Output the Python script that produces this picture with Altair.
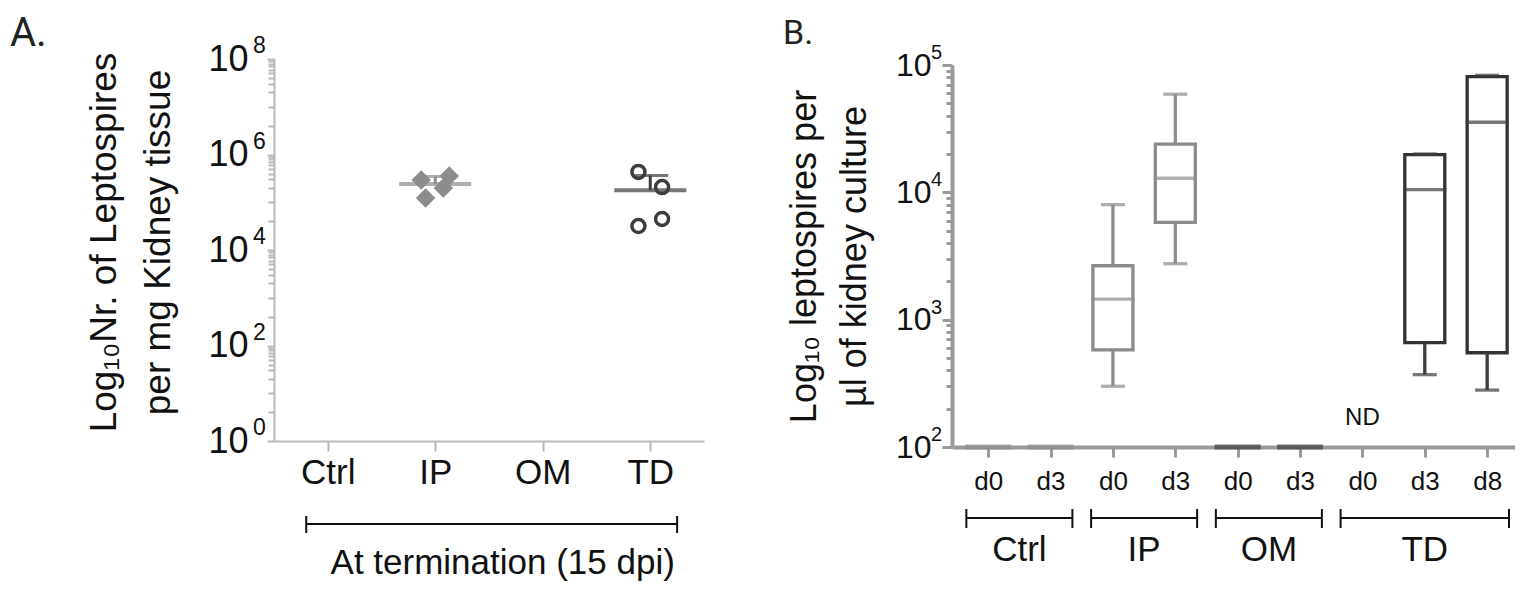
import json
import altair as alt
import pandas as pd

FONT = "Liberation Sans"
LABEL_FONT = "Roboto"
TXT = "#111111"

# ---------------- Panel A data ----------------
a_groups = ["Ctrl", "IP", "OM", "TD"]
a_pt_group = ["IP", "IP", "IP", "IP", "TD", "TD", "TD", "TD"]
a_pt_jitter = [-0.13, 0.13, 0.075, -0.09, -0.11, 0.11, -0.11, 0.11]
a_pt_value = [292000, 355000, 199000, 123000, 431000, 208000, 31800, 44600]
a_major = [1, 100, 10000, 1000000, 100000000]
a_major_exp = ["0", "2", "4", "6", "8"]
a_minor_mult = [4, 10, 20, 30, 40, 50, 60, 70, 80, 90]
a_bracket_label = ["At termination (15 dpi)"]
a_colors = {"IP": "#8c8c8c", "TD": "#3d3d3d"}
a_err_colors = {"IP": "#e2e2e2", "TD": "#3d3d3d"}

# ---------------- Panel B data ----------------
b_days = ["d0", "d3", "d0", "d3", "d0", "d3", "d0", "d3", "d8"]
b_box_pos = [2, 3, 7, 8]
b_box_group = ["IP", "IP", "TD", "TD"]
b_box_min = [300, 2750, 370, 280]
b_box_q1 = [580, 5800, 660, 550]
b_box_med = [1450, 12900, 10500, 35500]
b_box_q3 = [2650, 23900, 19800, 81000]
b_box_max = [8000, 59000, 20000, 83000]
b_flat_pos = [0, 1, 4, 5]
b_flat_group = ["Ctrl", "Ctrl", "OM", "OM"]
b_flat_value = [100, 100, 100, 100]
b_nd_pos = [6]
b_nd_text = ["ND"]
b_bracket_group = ["Ctrl", "IP", "OM", "TD"]
b_bracket_first = [0, 2, 4, 6]
b_bracket_last = [1, 3, 5, 8]
b_major = [100, 1000, 10000, 100000]
b_major_exp = ["2", "3", "4", "5"]
b_minor_mult = [2, 3, 4, 5, 6, 7, 8, 9]
b_colors = {"Ctrl": "#e6e6e6", "IP": "#8a8a8a", "OM": "#0a0a0a", "TD": "#333333"}

panel_labels = ["A.", "B."]

# ---------------- layout constants ----------------
PH = 382          # plot height of both panels
A_W = 430
B_OFF = 6         # panel B plot starts a little lower than panel A
PHB = PH + B_OFF
B_STEP = 63.5
B_W = 563


def js(v):
    return json.dumps(v, ensure_ascii=False)


def arr(vals):
    return "[" + ",".join(str(int(m)) for m in vals) + "]"


def log_axis(majors, minors, major_tick, minor_tick, **kw):
    vals = sorted(set(majors + minors))
    test = f"indexof({arr(majors)}, datum.value) >= 0"
    return alt.Axis(
        values=vals,
        labelExpr=f"{test} ? '10' : ''",
        tickSize={"condition": {"test": test, "value": major_tick}, "value": minor_tick},
        grid=False,
        labelOverlap=False,
        labelFlush=False,
        labelFont=FONT,
        labelColor=TXT,
        titleFont=FONT,
        titleColor=TXT,
        titleFontWeight="normal",
        **kw,
    )


def panel_label(text, x, y, size):
    return alt.Chart(pd.DataFrame({"t": [text]})).mark_text(
        font=LABEL_FONT, fontSize=size, color="#222222", align="left", baseline="alphabetic",
    ).encode(x=alt.value(x), y=alt.value(y), text="t:N")


# ================= Panel A =================
pts = pd.DataFrame({
    "group": a_pt_group,
    "pos": [a_groups.index(g) for g in a_pt_group],
    "jitter": a_pt_jitter,
    "y": a_pt_value,
})

a_minor = [m * 10 ** e for e in (0, 2, 4, 6) for m in a_minor_mult]
y_axis_a = log_axis(
    a_major, a_minor, 7, 6,
    title=["Log₁₀Nr. of Leptospires", "per mg Kidney tissue"],
    titleFontSize=37, titleLineHeight=54, titlePadding=30, titleY=PH / 2 - 8,
    labelFontSize=36, labelPadding=19,
    domainColor="#b8b8b8", domainWidth=2,
    tickColor="#b8b8b8", tickWidth=2,
)
y_scale_a = alt.Scale(type="log", domain=[1, 1e8], nice=False)
x_scale_a = alt.Scale(domain=[-0.5, 3.5], nice=False, zero=False)
x_axis_a = alt.Axis(
    values=[0, 1, 2, 3], labelExpr=f"{js(a_groups)}[datum.value]", title=None,
    grid=False, tickSize=10, tickWidth=2, tickColor="#b8b8b8",
    domainColor="#b8b8b8", domainWidth=2, labelFont=FONT, labelFontSize=35,
    labelColor=TXT, labelPadding=4, labelFlush=False,
)
XA = lambda f: alt.X(f, scale=x_scale_a, axis=x_axis_a)
YA = lambda f: alt.Y(f, scale=y_scale_a, axis=y_axis_a)
col_a = alt.Color("group:N", scale=alt.Scale(domain=list(a_colors), range=list(a_colors.values())), legend=None)
err_a = alt.Color("group:N", scale=alt.Scale(domain=list(a_err_colors), range=list(a_err_colors.values())), legend=None)

base_pts = alt.Chart(pts).transform_calculate(x="datum.pos + datum.jitter")
ip_pts = base_pts.transform_filter("datum.group == 'IP'").mark_point(
    shape="diamond", filled=True, size=380, opacity=1, color=a_colors["IP"]
).encode(x=XA("x:Q"), y=YA("y:Q"))
td_pts = base_pts.transform_filter("datum.group == 'TD'").mark_point(
    shape="circle", filled=False, size=170, strokeWidth=3.5, opacity=1, color=a_colors["TD"]
).encode(x=XA("x:Q"), y=YA("y:Q"))

stats = alt.Chart(pts).transform_aggregate(
    y="mean(y)", sd="stdev(y)", groupby=["group", "pos"]
).transform_calculate(x="datum.pos", top="datum.y + datum.sd")
mean_a = stats.mark_tick(orient="horizontal", size=72, thickness=4).encode(
    x=XA("x:Q"), y=YA("y:Q"), color=col_a)
err_rule_a = stats.mark_rule(strokeWidth=3).encode(
    x=XA("x:Q"), y=YA("y:Q"), y2="top:Q", color=err_a)
err_cap_a = stats.mark_tick(orient="horizontal", size=36, thickness=3).encode(
    x=XA("x:Q"), y=YA("top:Q"), color=err_a)

sup_a = alt.Chart(pd.DataFrame({"v": a_major, "e": a_major_exp})).mark_text(
    font=FONT, fontSize=23, color=TXT, align="left", baseline="middle", dy=-13
).encode(x=alt.value(-21), y=YA("v:Q"), text="e:N")

br_a = pd.DataFrame({
    "start": [0 - 0.2], "end": [len(a_groups) - 1 + 0.25], "label": a_bracket_label,
})
br_a["mid"] = (br_a["start"] + br_a["end"]) / 2
br_a_line = alt.Chart(br_a).mark_rule(color=TXT, strokeWidth=2).encode(
    x=XA("start:Q"), x2="end:Q", y=alt.value(PH + 83))
br_a_c1 = alt.Chart(br_a).mark_rule(color=TXT, strokeWidth=2).encode(
    x=XA("start:Q"), y=alt.value(PH + 75), y2=alt.value(PH + 92))
br_a_c2 = alt.Chart(br_a).mark_rule(color=TXT, strokeWidth=2).encode(
    x=XA("end:Q"), y=alt.value(PH + 75), y2=alt.value(PH + 92))
br_a_txt = alt.Chart(br_a).mark_text(
    font=FONT, fontSize=35, color=TXT, align="center", baseline="middle", dx=11
).encode(x=XA("mid:Q"), y=alt.value(PH + 122), text="label:N")

panel_a = alt.layer(
    mean_a, ip_pts, td_pts, err_rule_a, err_cap_a, sup_a, br_a_line, br_a_c1, br_a_c2, br_a_txt,
    panel_label(panel_labels[0], -264, -13.5, 40),
).properties(width=A_W, height=PH)

# ================= Panel B =================
b_minor = [m * 10 ** e for e in (2, 3, 4) for m in b_minor_mult]
y_axis_b = log_axis(
    b_major, b_minor, 10, 6,
    title=["Log₁₀ leptospires per", "µl of kidney culture"],
    titleFontSize=36, titleLineHeight=50, titlePadding=22, titleY=B_OFF + PH / 2,
    labelFontSize=32, labelPadding=11,
    domainColor="#9a9a9a", domainWidth=4,
    tickColor="#9a9a9a", tickWidth=3,
)
y_scale_b = alt.Scale(type="log", domain=[100, 100000], nice=False, range=[PHB, B_OFF])
x_scale_b = alt.Scale(domain=[-0.5, -0.5 + B_W / B_STEP], nice=False, zero=False)
x_axis_b = alt.Axis(
    values=list(range(len(b_days))), labelExpr=f"{js(b_days)}[datum.value]", title=None,
    grid=False, tickSize=10, tickWidth=3, tickColor="#9a9a9a",
    domainColor="#9a9a9a", domainWidth=4, labelFont=FONT, labelFontSize=26,
    labelColor=TXT, labelPadding=11, labelFlush=False,
)
XB = lambda f: alt.X(f, scale=x_scale_b, axis=x_axis_b)
YB = lambda f: alt.Y(f, scale=y_scale_b, axis=y_axis_b)
col_b_scale = alt.Scale(domain=list(b_colors), range=list(b_colors.values()))
col_b = alt.Color("group:N", scale=col_b_scale, legend=None)

boxes = pd.DataFrame({
    "x": b_box_pos, "group": b_box_group, "mn": b_box_min, "q1": b_box_q1,
    "med": b_box_med, "q3": b_box_q3, "mx": b_box_max,
})
bx = alt.Chart(boxes)
box_rect = bx.mark_bar(size=40, fill="white", strokeWidth=3.3).encode(
    x=XB("x:Q"), y=YB("q1:Q"), y2="q3:Q",
    stroke=alt.Stroke("group:N", scale=col_b_scale, legend=None))
box_med = bx.mark_tick(orient="horizontal", size=43, thickness=3.3).encode(
    x=XB("x:Q"), y=YB("med:Q"), color=col_b)
wh_lo = bx.mark_rule(strokeWidth=3.3).encode(x=XB("x:Q"), y=YB("mn:Q"), y2="q1:Q", color=col_b)
wh_hi = bx.mark_rule(strokeWidth=3.3).encode(x=XB("x:Q"), y=YB("q3:Q"), y2="mx:Q", color=col_b)
cap_lo = bx.mark_tick(orient="horizontal", size=24, thickness=3.3).encode(
    x=XB("x:Q"), y=YB("mn:Q"), color=col_b)
cap_hi = bx.mark_tick(orient="horizontal", size=24, thickness=3.3).encode(
    x=XB("x:Q"), y=YB("mx:Q"), color=col_b)

flat = pd.DataFrame({"x": b_flat_pos, "group": b_flat_group, "y": b_flat_value})
flat_m = alt.Chart(flat).mark_tick(orient="horizontal", size=46, thickness=5).encode(
    x=XB("x:Q"), y=YB("y:Q"), color=col_b)

nd = pd.DataFrame({"x": b_nd_pos, "t": b_nd_text})
nd_m = alt.Chart(nd).mark_text(font=FONT, fontSize=24, color=TXT, baseline="middle").encode(
    x=XB("x:Q"), y=alt.value(PHB - 29), text="t:N")

sup_b = alt.Chart(pd.DataFrame({"v": b_major, "e": b_major_exp})).mark_text(
    font=FONT, fontSize=20, color=TXT, align="left", baseline="middle", dy=-12
).encode(x=alt.value(-21), y=YB("v:Q"), text="e:N")

BR_EXT = 0.35
br_b = pd.DataFrame({
    "group": b_bracket_group,
    "start": [f - BR_EXT for f in b_bracket_first],
    "end": [l + BR_EXT for l in b_bracket_last],
    "mid": [(f + l) / 2 for f, l in zip(b_bracket_first, b_bracket_last)],
})
brb = alt.Chart(br_b)
br_b_line = brb.mark_rule(color=TXT, strokeWidth=2).encode(
    x=XB("start:Q"), x2="end:Q", y=alt.value(PHB + 71))
br_b_c1 = brb.mark_rule(color=TXT, strokeWidth=2).encode(
    x=XB("start:Q"), y=alt.value(PHB + 62), y2=alt.value(PHB + 81))
br_b_c2 = brb.mark_rule(color=TXT, strokeWidth=2).encode(
    x=XB("end:Q"), y=alt.value(PHB + 62), y2=alt.value(PHB + 81))
br_b_txt = brb.mark_text(font=FONT, fontSize=35, color=TXT, align="center", baseline="middle").encode(
    x=XB("mid:Q"), y=alt.value(PHB + 103), text="group:N")

panel_b = alt.layer(
    box_rect, wh_lo, wh_hi, cap_lo, cap_hi, box_med, flat_m, nd_m, sup_b,
    br_b_line, br_b_c1, br_b_c2, br_b_txt,
    panel_label(panel_labels[1], -169, -15, 34),
).properties(width=B_W, height=PHB)

chart = alt.hconcat(panel_a, panel_b, spacing=79).properties(
    padding={"left": 2, "top": 5, "right": 0, "bottom": 0},
    background="white",
).configure_view(stroke=None)

chart.save("out.html", embed_options={"renderer": "svg", "actions": False})
